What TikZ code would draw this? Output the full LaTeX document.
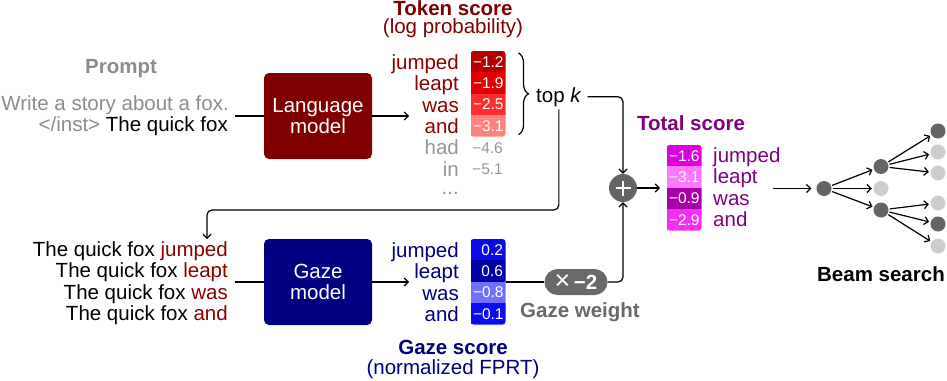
\documentclass[tikz,border=0pt]{standalone}
\usepackage{fontspec}
\setmainfont{Liberation Sans}
\usetikzlibrary{arrows.meta,decorations.pathreplacing,calc}

\definecolor{lmred}{RGB}{128,0,0}
\definecolor{wordred}{RGB}{140,0,0}
\definecolor{gznavy}{RGB}{0,0,128}
\definecolor{totpurple}{RGB}{128,0,128}
\definecolor{promptgray}{RGB}{140,140,140}
\definecolor{softgray}{RGB}{150,150,150}
\definecolor{weightgray}{RGB}{105,105,105}
\definecolor{beamdark}{RGB}{100,100,100}
\definecolor{beamlight}{RGB}{205,205,205}
\definecolor{tA}{RGB}{180,0,0}
\definecolor{tB}{RGB}{228,0,0}
\definecolor{tC}{RGB}{255,45,45}
\definecolor{tD}{RGB}{255,130,130}
\definecolor{gA}{RGB}{10,10,228}
\definecolor{gB}{RGB}{0,0,165}
\definecolor{gC}{RGB}{112,112,255}
\definecolor{gD}{RGB}{12,12,242}
\definecolor{sA}{RGB}{220,0,220}
\definecolor{sB}{RGB}{255,120,255}
\definecolor{sC}{RGB}{168,0,168}
\definecolor{sD}{RGB}{245,45,245}

\newcommand\mainsz{\fontsize{20.5}{21.4}\selectfont}
\newcommand\numsz{\fontsize{15.5}{16}\selectfont}

\tikzset{
  txt/.style={inner sep=0pt, font=\mainsz},
  wordR/.style={txt, anchor=base east},
  wordL/.style={txt, anchor=base west},
  ttl/.style={inner sep=0pt, anchor=base, font=\mainsz\bfseries},
  sub/.style={inner sep=0pt, anchor=base, font=\mainsz},
  model/.style={rounded corners=5pt, minimum width=108pt, minimum height=86pt,
    text=white, align=center, font=\mainsz, inner sep=0pt},
  cell/.style={minimum width=35pt, minimum height=21.4pt, inner xsep=2.5pt,
    inner ysep=0pt, outer sep=0pt, text width=30pt, align=right, text=white, font=\numsz},
  graynum/.style={inner sep=0pt, anchor=base east, font=\numsz, text=softgray},
  line/.style={line width=1.2pt},
  arr/.style={line, -{Straight Barb[length=4pt,width=8pt]}},
  beamdot/.style={circle, minimum size=15pt, inner sep=0pt},
  dk/.style={beamdot, fill=beamdark},
  lt/.style={beamdot, fill=beamlight},
  plusc/.style={circle, minimum size=28pt, inner sep=0pt, fill=beamdark},
  pill/.style={rounded corners=13pt, minimum width=63pt, minimum height=26pt,
    fill=weightgray, text=white, font=\mainsz, inner sep=0pt},
}

\begin{document}
\begin{tikzpicture}[x=1pt,y=-1pt]
\useasboundingbox (0,0) rectangle (947,380);

% ---------- Prompt ----------
\node[ttl, text=promptgray] (prompt) at (121,73) {Prompt};
\node[wordR, text=promptgray] (p1) at (229,110) {Write a story about a fox.};
\node[wordR] (p2) at (228,131) {\textcolor{promptgray}{</inst>} The quick fox};

% ---------- Language model ----------
\node[model, fill=lmred] (lm) at (318,116) {Language\\model};
\coordinate (pout) at (235,116);
\draw[line] (pout) -- (lm.west);

% ---------- Token score ----------
\node[ttl, text=lmred] (tokttl) at (453,16) {Token score};
\node[sub, text=lmred] (toksub) at (453,33.5) {(log probability)};

\begin{scope}
\clip[rounded corners=3pt] (470.5,51) rectangle (505.5,136.6);
\node[cell, fill=tA] (t1) at (488,61.7) {−1.2};
\node[cell, fill=tB] (t2) at (488,83.1) {−1.9};
\node[cell, fill=tC] (t3) at (488,104.5) {−2.5};
\node[cell, fill=tD] (t4) at (488,125.9) {−3.1};
\end{scope}

\node[wordR, text=wordred] (w1) at (459,69.2) {jumped};
\node[wordR, text=wordred] (w2) at (459,90.6) {leapt};
\node[wordR, text=wordred] (w3) at (459,112) {was};
\node[wordR, text=wordred] (w4) at (459,133.4) {and};
\node[wordR, text=softgray] (w5) at (459,154.8) {had};
\node[wordR, text=softgray] (w6) at (459,176.2) {in};
\node[wordR, text=softgray] (w7) at (459,194) {...};
\node[graynum] (n5) at (503,153.2) {−4.6};
\node[graynum] (n6) at (503,174.6) {−5.1};

\coordinate (tokin) at (409,116);
\draw[arr] (lm.east) -- (tokin);

% brace and top k
\draw[line, decorate, decoration={brace, amplitude=10pt}] (t1.north east) ++(13,2) coordinate (bA) -- ($(t4.south east)+(13,-2)$) coordinate (bB);
\node[txt, anchor=base west] (topk) at (536,102) {top \textit{k}};

% ---------- Plus ----------
\node[plusc] (plus) at (623,188) {};
\draw[white, line width=2.6pt] ($(plus)+(-7.5,0)$) -- ($(plus)+(7.5,0)$)
  ($(plus)+(0,-7.5)$) -- ($(plus)+(0,7.5)$);

\draw[arr, rounded corners=5pt] ([xshift=6pt]topk.east) -| (plus.north);

% ---------- Candidate sentences ----------
\node[wordR] (s1) at (228,256.5) {The quick fox \textcolor{wordred}{jumped}};
\node[wordR] (s2) at (228,277.8) {The quick fox \textcolor{wordred}{leapt}};
\node[wordR] (s3) at (228,299.1) {The quick fox \textcolor{wordred}{was}};
\node[wordR] (s4) at (228,320.4) {The quick fox \textcolor{wordred}{and}};

\coordinate (sentin) at (207,239);
\coordinate (loopy) at (0,210);
\draw[arr, rounded corners=5pt] ([yshift=-3pt]topk.south) |- (sentin |- loopy) -- (sentin);

% ---------- Gaze model ----------
\node[model, fill=gznavy] (gz) at (318,282) {Gaze\\model};
\coordinate (sout) at (235,282);
\draw[line] (sout) -- (gz.west);
\coordinate (gzin) at (409,282);
\draw[arr] (gz.east) -- (gzin);

\begin{scope}
\clip[rounded corners=3pt] (470.5,239) rectangle (505.5,324.6);
\node[cell, fill=gA] (g1) at (488,249.7) {0.2};
\node[cell, fill=gB] (g2) at (488,271.1) {0.6};
\node[cell, fill=gC] (g3) at (488,292.5) {−0.8};
\node[cell, fill=gD] (g4) at (488,313.9) {−0.1};
\end{scope}

\node[wordR, text=gznavy] (v1) at (459,257.2) {jumped};
\node[wordR, text=gznavy] (v2) at (459,278.6) {leapt};
\node[wordR, text=gznavy] (v3) at (459,300) {was};
\node[wordR, text=gznavy] (v4) at (459,321.4) {and};

\node[ttl, text=gznavy] (gzttl) at (453,354) {Gaze score};
\node[sub, text=gznavy] (gzsub) at (453,374.5) {(normalized FPRT)};

% weight pill
\node[pill] (pill) at (576,282) {{\fontsize{27}{27}\selectfont ×}\,\textbf{−2}};
\node[ttl, text=weightgray] (wttl) at (580,317) {Gaze weight};
\draw[line] (g1.east |- pill.west) -- (pill.west);
\draw[arr, rounded corners=5pt] (pill.east) -| (plus.south);

% ---------- Total score ----------
\node[ttl, text=totpurple] (totttl) at (691,130) {Total score};
\coordinate (totin) at (660,188);
\draw[arr] (plus.east) -- (totin);

\begin{scope}
\clip[rounded corners=3pt] (666.5,145) rectangle (701.5,230.6);
\node[cell, fill=sA] (c1) at (684,155.7) {−1.6};
\node[cell, fill=sB] (c2) at (684,177.1) {−3.1};
\node[cell, fill=sC] (c3) at (684,198.5) {−0.9};
\node[cell, fill=sD] (c4) at (684,219.9) {−2.9};
\end{scope}

\node[wordL, text=totpurple] (u1) at (713,162.2) {jumped};
\node[wordL, text=totpurple] (u2) at (713,183.6) {leapt};
\node[wordL, text=totpurple] (u3) at (713,205) {was};
\node[wordL, text=totpurple] (u4) at (713,226.4) {and};

% ---------- Beam search ----------
\node[dk] (root) at (824,188.5) {};
\node[dk] (b1) at (881,166.5) {};
\node[lt] (b2) at (881,188.5) {};
\node[dk] (b3) at (881,210) {};
\node[dk] (e1) at (938,131) {};
\node[lt] (e2) at (938,152) {};
\node[lt] (e3) at (938,173) {};
\node[lt] (e4) at (938,203) {};
\node[dk] (e5) at (938,224) {};
\node[lt] (e6) at (938,246) {};

\coordinate (totout) at (773,188.5);
\draw[arr, shorten >=5pt] (totout) -- (root);
\foreach \a/\b in {root/b1, root/b2, root/b3, b1/e1, b1/e2, b1/e3, b3/e4, b3/e5, b3/e6}
  \draw[arr, shorten >=1.5pt, shorten <=1pt] (\a) -- (\b);

\node[ttl] (beamttl) at (881,281) {Beam search};
\end{tikzpicture}
\end{document}
